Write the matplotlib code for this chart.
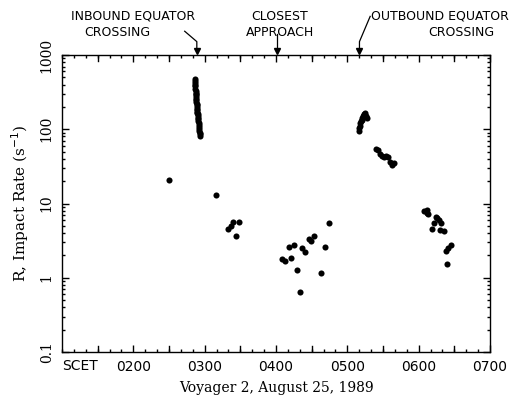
import matplotlib
matplotlib.use('Agg')
import matplotlib.pyplot as plt
from matplotlib.ticker import FixedLocator, MultipleLocator, LogLocator, NullFormatter

# times in decimal hours SCET, rates in counts per second
t_early = [2.50]
r_early = [21]

t_inbound = [2.866, 2.867, 2.868, 2.869, 2.870, 2.871, 2.872, 2.874, 2.875, 2.877,
             2.879, 2.880, 2.882, 2.884, 2.886, 2.888, 2.890, 2.892, 2.894, 2.896,
             2.898, 2.900, 2.903, 2.905, 2.908, 2.911, 2.914, 2.917, 2.920, 2.923,
             2.926, 2.930, 2.934, 2.938]
r_inbound = [470, 440, 420, 400, 380, 350, 330, 310, 300, 285,
             270, 255, 245, 230, 220, 210, 200, 190, 180, 172,
             165, 158, 150, 143, 136, 128, 120, 113, 107, 100,
             95, 90, 86, 82]

t_mid = [3.16, 3.33, 3.37, 3.40, 3.44, 3.48]
r_mid = [13, 4.5, 5.0, 5.6, 3.6, 5.6]

t_low = [4.09, 4.12, 4.18, 4.21, 4.25, 4.30, 4.33, 4.37, 4.41, 4.46,
         4.49, 4.53, 4.63, 4.69, 4.74]
r_low = [1.77, 1.67, 2.6, 1.86, 2.8, 1.27, 0.64, 2.5, 2.2, 3.3,
         3.15, 3.65, 1.17, 2.6, 5.4]

t_outbound = [5.16, 5.17, 5.175, 5.18, 5.19, 5.20, 5.21, 5.22, 5.23, 5.24, 5.25, 5.26, 5.27]
r_outbound = [95, 105, 112, 120, 128, 135, 140, 150, 155, 160, 165, 150, 140]

t_late = [5.40, 5.43, 5.46, 5.48, 5.51, 5.54, 5.57, 5.60, 5.63, 5.66]
r_late = [55, 52, 47, 43, 42, 43, 42, 36, 33, 35]

t_last = [6.08, 6.11, 6.12, 6.13, 6.24, 6.26, 6.28, 6.22, 6.32, 6.18,
          6.30, 6.35, 6.38, 6.41, 6.45, 6.40]
r_last = [8.0, 8.2, 7.5, 7.2, 6.6, 6.4, 6.0, 5.5, 5.4, 4.6,
          4.4, 4.3, 2.3, 2.5, 2.8, 1.55]

hour_ticks = [2, 3, 4, 5, 6, 7]
hour_labels = ['0200', '0300', '0400', '0500', '0600', '0700']

fig = plt.figure(figsize=(5.17, 4.03), dpi=100)
ax = fig.add_axes([62 / 517, 1 - 352 / 403, 428 / 517, 297 / 403])

for tt, rr in [(t_early, r_early), (t_inbound, r_inbound), (t_mid, r_mid),
               (t_low, r_low), (t_outbound, r_outbound), (t_late, r_late),
               (t_last, r_last)]:
    ax.plot(tt, rr, 'o', color='black', ms=4.4, mew=0)

ax.set_yscale('log')
ax.set_xlim(1, 7)
ax.set_ylim(0.1, 1000)

ax.xaxis.set_major_locator(FixedLocator(hour_ticks))
ax.set_xticklabels(hour_labels, fontsize=10, family='DejaVu Sans')
ax.xaxis.set_minor_locator(MultipleLocator(1 / 6))
ax.yaxis.set_major_locator(LogLocator(base=10))
ax.yaxis.set_minor_locator(LogLocator(base=10, subs=range(2, 10)))
ax.yaxis.set_minor_formatter(NullFormatter())
ax.set_yticks([0.1, 1, 10, 100, 1000])
ax.set_yticklabels(['0.1', '1', '10', '100', '1000'], rotation=90, va='center',
                   fontsize=10, family='DejaVu Serif')

ax.tick_params(which='both', direction='in', top=True, right=True, width=1)
ax.tick_params(which='major', length=5, pad=6)
ax.tick_params(which='minor', length=2.5)
# half hour ticks taller than the 10 minute ones
for h in [1.5, 2.5, 3.5, 4.5, 5.5, 6.5]:
    ax.axvline(h, ymin=0, ymax=0.02, color='black', lw=1)
    ax.axvline(h, ymin=0.98, ymax=1, color='black', lw=1)

for s in ax.spines.values():
    s.set_linewidth(1)

ax.text(1.0, -0.048, 'SCET', transform=ax.get_xaxis_transform(), ha='left',
        va='center', fontsize=10)

ax.set_xlabel('Voyager 2, August 25, 1989', family='DejaVu Serif', fontsize=10,
              labelpad=5)
ax.set_ylabel('R, Impact Rate (s$^{-1}$)', family='DejaVu Serif', fontsize=11,
              labelpad=6)

# crossing annotations above the frame
tr = ax.get_xaxis_transform()
ax.text(2.0, 1.13, 'INBOUND EQUATOR', transform=tr, ha='center', va='center', fontsize=9)
ax.text(1.78, 1.075, 'CROSSING', transform=tr, ha='center', va='center', fontsize=9)
ax.text(4.05, 1.13, 'CLOSEST', transform=tr, ha='center', va='center', fontsize=9)
ax.text(4.05, 1.075, 'APPROACH', transform=tr, ha='center', va='center', fontsize=9)
ax.text(6.3, 1.13, 'OUTBOUND EQUATOR', transform=tr, ha='center', va='center', fontsize=9)
ax.text(6.6, 1.075, 'CROSSING', transform=tr, ha='center', va='center', fontsize=9)

arrows = [(2.89, 2.72, 1.08), (4.02, 4.02, 1.07), (5.17, 5.32, 1.13)]
for x_end, x_start, y_start in arrows:
    ax.plot([x_start, x_end, x_end], [y_start, 1.045, 1.015], color='black', lw=0.9,
            transform=tr, clip_on=False)
    ax.plot([x_end], [1.012], marker='v', color='black', ms=5, transform=tr, clip_on=False)

fig.savefig('out.png', dpi=100)
